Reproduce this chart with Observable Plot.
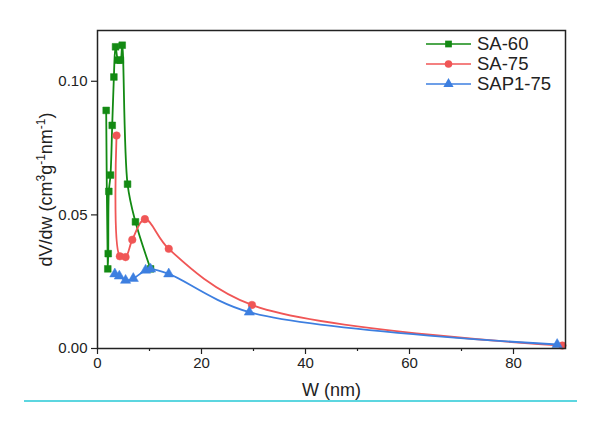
<!DOCTYPE html>
<html>
<head>
<meta charset="utf-8">
<script src="https://cdn.jsdelivr.net/npm/d3@7"></script>
<script src="https://cdn.jsdelivr.net/npm/@observablehq/plot@0.6"></script>
<style>
  html, body { margin: 0; padding: 0; background: #fff; }
  #wrap { position: relative; width: 589px; height: 421px; font-family: "Liberation Sans", Arial, sans-serif; }
  #legend { position: absolute; left: 425px; top: 34px; }
  .row { display: flex; align-items: center; height: 20px; font-size: 18.5px; color: #222; }
  .row svg { margin-right: 5px; }
  #rule { position: absolute; left: 24px; top: 400px; width: 553px; height: 2px; background: #5cd6e0; }
</style>
</head>
<body>
<div id="wrap">
  <div id="chart"></div>
  <div id="legend"></div>
  <div id="rule"></div>
</div>
<script>
// ---- data ----
const seriesNames = ["SA-60", "SA-75", "SAP1-75"];
const seriesColors = ["#138a13", "#f05656", "#3d7fe0"];
const seriesSymbols = ["square", "circle", "triangle"];

const sa60_w = [1.67, 1.98, 2.06, 2.18, 2.5, 2.83, 3.15, 3.47, 3.98, 4.4, 4.75, 5.78, 7.3, 10.2];
const sa60_v = [0.0891, 0.0298, 0.0355, 0.0588, 0.0649, 0.0835, 0.1016, 0.1129, 0.1079, 0.1079, 0.1135, 0.0615, 0.0474, 0.0298];

const sa75_w = [3.66, 4.3, 5.4, 6.69, 9.11, 13.7, 29.7, 89.4];
const sa75_v = [0.0797, 0.0345, 0.0342, 0.0407, 0.0484, 0.0373, 0.0163, 0.0011];

const sap_w = [3.33, 4.2, 5.4, 6.88, 9.25, 10.2, 13.7, 29.2, 88.4];
const sap_v = [0.0279, 0.0271, 0.0255, 0.0262, 0.0293, 0.0297, 0.0279, 0.0136, 0.0015];

const xMajor = [0, 20, 40, 60, 80];
const xMinor = [10, 30, 50, 70];
const yMajor = [0, 0.05, 0.10];

// ---- build table ----
const table = [];
[[sa60_w, sa60_v], [sa75_w, sa75_v], [sap_w, sap_v]].forEach(([ws, vs], i) => {
  ws.forEach((w, j) => table.push({ series: seriesNames[i], w, v: vs[j] }));
});

const colorScale = { domain: seriesNames, range: seriesColors };
const symbolScale = { domain: seriesNames, range: seriesSymbols };

const chart = Plot.plot({
  width: 589,
  height: 412,
  marginLeft: 97,
  marginRight: 24,
  marginTop: 30,
  marginBottom: 64,
  style: { fontFamily: "Liberation Sans, Arial, sans-serif", fontSize: "15px", color: "#222", background: "#fff" },
  x: { domain: [0, 90] },
  y: { domain: [0, 0.119] },
  color: colorScale,
  symbol: symbolScale,
  marks: [
    Plot.axisX(xMinor, { tickSize: 3, text: null, label: null, strokeWidth: 1.2 }),
    Plot.axisX(xMajor, { tickSize: 6, tickPadding: 3, tickFormat: d => String(d), strokeWidth: 1.2,
      label: "W (nm)", labelAnchor: "center", labelArrow: "none", labelOffset: 47 }),
    Plot.axisY(yMajor, { tickSize: 6, tickPadding: 4, tickFormat: d3.format(".2f"), strokeWidth: 1.2,
      label: "dV/dw (cm3g-1nm-1)", labelAnchor: "center", labelArrow: "none", labelOffset: 58 }),
    Plot.line(table, { x: "w", y: "v", z: "series", stroke: "series", strokeWidth: 1.8, curve: "catmull-rom" }),
    Plot.dot(table, { x: "w", y: "v", fill: "series", stroke: "series", symbol: "series", r: 3.8, strokeWidth: 0.5 }),
    Plot.frame({ stroke: "#222", strokeWidth: 1.5 })
  ]
});
document.getElementById("chart").appendChild(chart);

// axis label styling and superscripts
const svg = d3.select(chart);
svg.select('g[aria-label="x-axis label"]').attr("font-size", 18).attr("fill", "#222");
const yl = svg.select('g[aria-label="y-axis label"]').attr("font-size", 18).attr("fill", "#222");
const yt = yl.select("text");
yt.text(null);
const parts = [["dV/dw (cm", false], ["3", true], ["g", false], ["-1", true], ["nm", false], ["-1", true], [")", false]];
parts.forEach(([s, sup]) => {
  const t = yt.append("tspan").text(s);
  if (sup) t.attr("font-size", 12).attr("baseline-shift", "super");
});

// legend
const leg = d3.select("#legend");
seriesNames.forEach((name, i) => {
  const row = leg.append("div").attr("class", "row");
  const s = row.append("svg").attr("width", 47).attr("height", 14);
  s.append("line").attr("x1", 1).attr("x2", 46).attr("y1", 7).attr("y2", 7)
    .attr("stroke", seriesColors[i]).attr("stroke-width", 1.7);
  const sym = seriesSymbols[i] === "square" ? d3.symbolSquare : seriesSymbols[i] === "circle" ? d3.symbolCircle : d3.symbolTriangle;
  s.append("path").attr("d", d3.symbol(sym, 45)()).attr("transform", "translate(23.5,7)")
    .attr("fill", seriesColors[i]);
  row.append("span").text(name);
});
</script>
</body>
</html>
